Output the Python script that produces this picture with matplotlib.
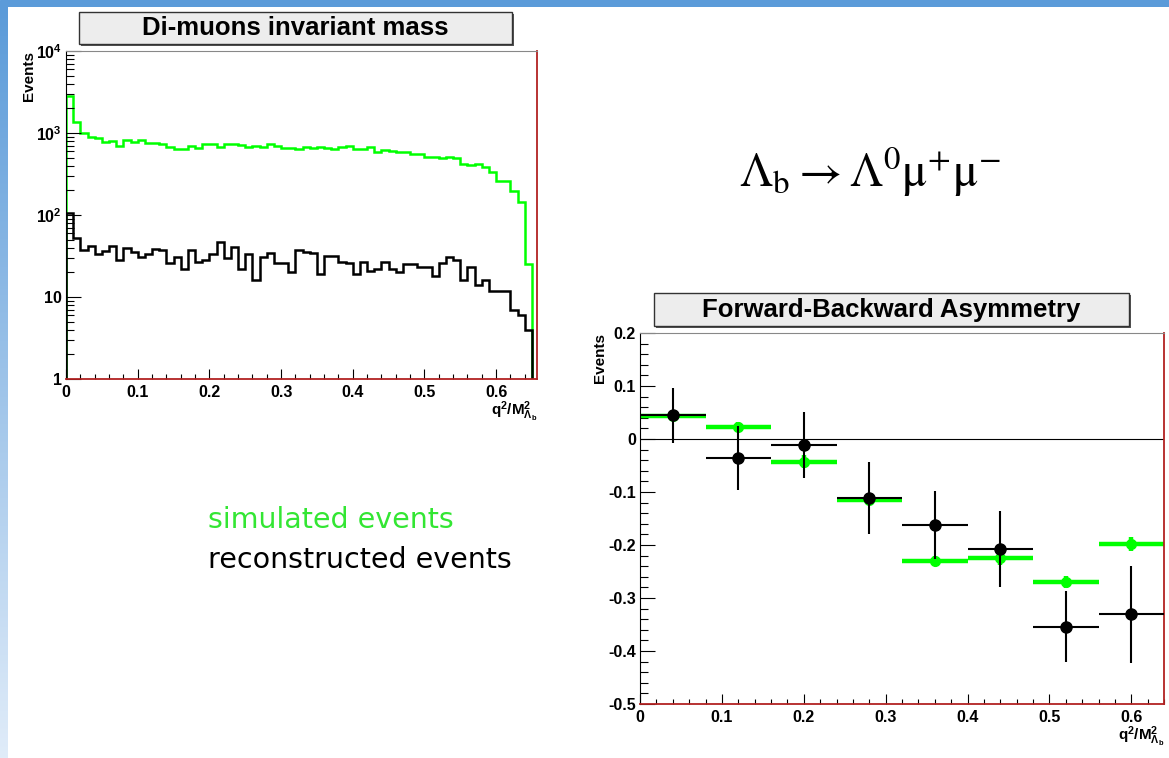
import numpy as np
import matplotlib
matplotlib.use("Agg")
import matplotlib.pyplot as plt
from matplotlib.patches import Rectangle
from matplotlib.ticker import MultipleLocator, LogLocator, FixedLocator, FixedFormatter, FuncFormatter

# dimuon invariant mass histograms, 0.01 wide bins in q^2/M^2
bin_width = 0.01
n_bins = 65
sim_counts = [2800, 1370, 990, 900, 860, 785, 805, 700, 820, 775, 820, 750, 760, 730, 670, 640, 640, 700,
              650, 740, 740, 680, 735,
              735, 715, 670, 700, 670, 730, 695, 655, 655, 645, 675, 660, 675, 655, 645, 675, 690, 640,
              640, 675, 590, 615,
              600, 590, 590, 550, 560, 510, 505, 495, 515, 500, 415, 405, 415, 380, 335, 260, 258, 195,
              145, 25]
rec_counts = [105, 52, 37, 42, 33, 36, 42, 28, 40, 35, 31, 33, 38, 37, 26, 31, 22, 37, 27, 28, 33, 47, 30,
              41, 22, 33, 16, 31, 34, 26, 26, 20, 37, 35, 34, 19, 32, 32, 27, 26, 19, 27, 21, 22, 27, 22,
              20, 25, 25, 23, 23, 18, 26, 31, 28, 16, 23, 14, 16, 12, 12, 12, 7, 6, 4]

# forward-backward asymmetry in 0.08 wide bins
afb_centers = [0.04, 0.12, 0.20, 0.28, 0.36, 0.44, 0.52, 0.60]
afb_halfwidth = 0.04
afb_sim = [0.043, 0.023, -0.043, -0.115, -0.230, -0.225, -0.270, -0.198]
afb_sim_err = [0.008, 0.010, 0.012, 0.010, 0.010, 0.012, 0.012, 0.013]
afb_rec = [0.045, -0.036, -0.011, -0.111, -0.163, -0.208, -0.354, -0.331]
afb_rec_err = [0.052, 0.060, 0.062, 0.068, 0.064, 0.072, 0.067, 0.092]

W, H = 1169, 758
GREEN = '#00ff00'
FRAME_RED = '#b22222'
TICK_FS = 11.5
LABEL_FS = 11

plt.rcParams['font.family'] = ['Liberation Sans', 'DejaVu Sans']
plt.rcParams['axes.unicode_minus'] = False
plt.rcParams['mathtext.fontset'] = 'custom'
plt.rcParams['mathtext.rm'] = 'Liberation Sans:bold'
plt.rcParams['mathtext.it'] = 'Liberation Sans:bold'
plt.rcParams['mathtext.bf'] = 'Liberation Sans:bold'
plt.rcParams['mathtext.sf'] = 'Liberation Sans:bold'
plt.rcParams['mathtext.default'] = 'rm'


def box(x0, y0, x1, y1):
    """pixel box (top-left origin) -> figure fraction rect"""
    return [x0 / W, 1 - y1 / H, (x1 - x0) / W, (y1 - y0) / H]


def title_box(fig, x0, y0, x1, y1, text):
    sx, sy = 2 / W, 2 / H
    r = box(x0, y0, x1, y1)
    fig.patches.append(Rectangle((r[0] + sx, r[1] - sy), r[2], r[3], transform=fig.transFigure,
                                 facecolor='#555555', edgecolor='none', zorder=5))
    fig.patches.append(Rectangle((r[0], r[1]), r[2], r[3], transform=fig.transFigure,
                                 facecolor='#ededed', edgecolor='#333333', lw=1.0, zorder=6))
    fig.text(r[0] + r[2] / 2, r[1] + r[3] / 2, text, ha='center', va='center',
             fontsize=18.5, fontweight='bold', zorder=7)


def root_frame(ax):
    ax.spines['left'].set_color('black')
    ax.spines['top'].set_color('#888888')
    ax.spines['top'].set_linewidth(0.8)
    for s in ('right', 'bottom'):
        ax.spines[s].set_color(FRAME_RED)
        ax.spines[s].set_linewidth(1.3)
    ax.tick_params(axis='both', which='both', direction='in', top=False, right=False,
                   colors='black', width=0.8, labelsize=TICK_FS)
    ax.tick_params(axis='y', which='major', length=11, pad=3)
    ax.tick_params(axis='y', which='minor', length=5.5)
    ax.tick_params(axis='x', which='major', length=7, pad=4)
    ax.tick_params(axis='x', which='minor', length=3.5)
    for lab in ax.get_xticklabels() + ax.get_yticklabels():
        lab.set_fontweight('bold')


fig = plt.figure(figsize=(W / 100, H / 100), dpi=100)
fig.patch.set_facecolor('white')

# slide decoration: blue bar on top, fading bar on the left
top_bar = fig.add_axes(box(0, 0, W, 7))
top_bar.set_axis_off()
top_bar.add_patch(Rectangle((0, 0), 1, 1, transform=top_bar.transAxes, color='#5b9bd9'))
left_bar = fig.add_axes(box(0, 7, 8, H))
grad = np.linspace(0, 1, 256)[:, None]
cols = np.array([91, 155, 217]) / 255 * (1 - grad[..., None]) + np.array([224, 236, 249]) / 255 * grad[..., None]
left_bar.imshow(cols, aspect='auto', extent=(0, 1, 0, 1), origin='upper')
left_bar.set_axis_off()

# --- di-muon invariant mass ---
ax1 = fig.add_axes(box(66, 51, 537, 379))
edges = np.arange(n_bins + 1) * bin_width
ax1.stairs(sim_counts, edges, baseline=1, color=GREEN, lw=1.8)
ax1.stairs(rec_counts, edges, baseline=1, color='black', lw=1.8)
ax1.set_yscale('log')
ax1.set_ylim(1, 1e4)
ax1.set_xlim(0, 0.657)
ax1.yaxis.set_major_locator(FixedLocator([1, 10, 100, 1000, 10000]))
ax1.yaxis.set_major_formatter(FixedFormatter(['1', '10', '$10^{2}$', '$10^{3}$', '$10^{4}$']))
ax1.yaxis.set_minor_locator(LogLocator(base=10, subs=np.arange(2, 10)))
ax1.yaxis.set_minor_formatter(FixedFormatter([]))
ax1.xaxis.set_major_locator(MultipleLocator(0.1))
ax1.xaxis.set_minor_locator(MultipleLocator(0.02))
ax1.xaxis.set_major_formatter(FuncFormatter(lambda v, p: '0' if abs(v) < 1e-9 else '%g' % round(v, 2)))
root_frame(ax1)
ax1.set_ylabel('Events', fontsize=LABEL_FS, fontweight='bold', loc='top', labelpad=0)
ax1.set_xlabel(r'q$^{2}$/M$^{2}_{\Lambda_{b}}$', fontsize=LABEL_FS, fontweight='bold', loc='right', labelpad=0)
title_box(fig, 79, 12, 512, 44, 'Di-muons invariant mass')

# --- forward-backward asymmetry ---
ax2 = fig.add_axes(box(640, 333, 1164, 704))
ax2.axhline(0, color='black', lw=0.8, zorder=1)
ax2.errorbar(afb_centers, afb_sim, xerr=afb_halfwidth, yerr=afb_sim_err, fmt='o', color=GREEN,
             ms=7, elinewidth=3.2, capsize=0, zorder=2)
ax2.errorbar(afb_centers, afb_rec, xerr=afb_halfwidth, yerr=afb_rec_err, fmt='o', color='black',
             ms=8, elinewidth=1.5, capsize=0, zorder=3)
ax2.set_xlim(0, 0.64)
ax2.set_ylim(-0.5, 0.2)
ax2.xaxis.set_major_locator(MultipleLocator(0.1))
ax2.xaxis.set_minor_locator(MultipleLocator(0.02))
ax2.yaxis.set_major_locator(MultipleLocator(0.1))
ax2.yaxis.set_minor_locator(MultipleLocator(0.02))
fmt = FuncFormatter(lambda v, p: '0' if abs(v) < 1e-9 else '%g' % round(v, 2))
ax2.xaxis.set_major_formatter(fmt)
ax2.yaxis.set_major_formatter(fmt)
root_frame(ax2)
ax2.set_ylabel('Events', fontsize=LABEL_FS, fontweight='bold', loc='top', labelpad=1)
ax2.set_xlabel(r'q$^{2}$/M$^{2}_{\Lambda_{b}}$', fontsize=LABEL_FS, fontweight='bold', loc='right', labelpad=0)
title_box(fig, 654, 293, 1129, 326, 'Forward-Backward Asymmetry')

# decay channel and legend text
decay = fig.text(870 / W, 1 - 172 / H, r'$\mathrm{\Lambda_{b} \rightarrow \Lambda^{0}\mu^{+}\mu^{-}}$',
                 ha='center', va='center', fontsize=34)
decay.set_math_fontfamily('stix')
fig.text(208 / W, 1 - 520 / H, 'simulated events', color='#33e633', fontsize=20.5,
         family='DejaVu Sans', va='center', ha='left')
fig.text(208 / W, 1 - 560 / H, 'reconstructed events', color='black', fontsize=20.5,
         family='DejaVu Sans', va='center', ha='left')

fig.savefig('out.png', dpi=100)
